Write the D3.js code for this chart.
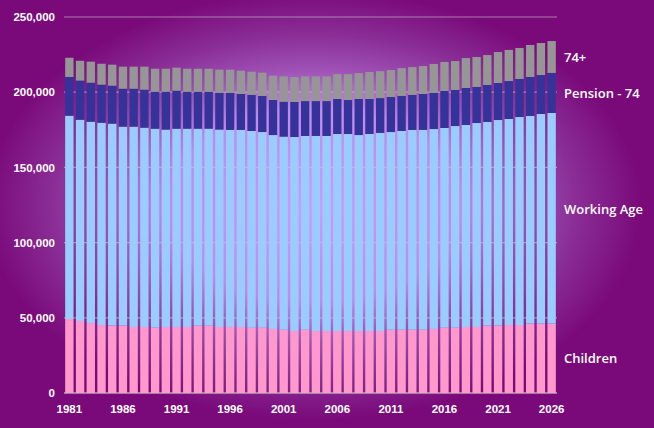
<!DOCTYPE html>
<html>
<head>
<meta charset="utf-8">
<script src="https://cdn.jsdelivr.net/npm/d3@7"></script>
<style>
  html, body { margin: 0; padding: 0; background: #7a0a7a; }
  svg { display: block; }
</style>
</head>
<body>
<div id="chart"></div>
<script>
// years 1981 - 2026
const years = d3.range(1981, 2027)

const children = [49200, 47900, 46500, 45200, 44800, 44800, 43900, 43900, 43400, 43900,
  43900, 43900, 44800, 44800, 43900, 43900, 43900, 43400, 43400, 42600,
  42100, 41200, 42100, 41200, 41200, 41200, 41200, 41200, 41200, 41200,
  42100, 42100, 42100, 42100, 42600, 43400, 43400, 43900, 43900, 44800,
  44800, 45200, 45200, 46100, 46100, 46100]

const workingAge = [135200, 133800, 133900, 134500, 134300, 132300, 133200, 132500, 132300, 131200,
  131800, 131800, 130900, 130900, 131200, 131000, 131000, 130800, 130100, 128900,
  128300, 129000, 128800, 129700, 129700, 131000, 131000, 130300, 131000, 131700,
  131400, 132100, 132800, 132800, 132900, 132800, 134100, 134300, 135600, 135400,
  136700, 137000, 138300, 138100, 139400, 140100]

const pension74 = [25700, 26000, 25900, 25300, 25200, 25200, 25200, 25300, 24600, 25200,
  25300, 24600, 24600, 24600, 24500, 24600, 23900, 24000, 24000, 23300,
  23300, 23300, 23200, 23200, 23200, 23300, 22600, 24000, 23300, 23200,
  23300, 23300, 23300, 23900, 24000, 24600, 24000, 24600, 24000, 24600,
  24600, 25200, 25300, 25900, 25900, 26600]

const over74 = [12800, 13200, 14000, 13900, 14000, 14700, 14700, 15300, 15300, 15300,
  15300, 15300, 15300, 15300, 15400, 15500, 15500, 15400, 15500, 16200,
  16800, 16600, 16400, 16400, 16400, 16500, 17200, 17200, 17900, 17900,
  17900, 18500, 18500, 18600, 19300, 19300, 19200, 19900, 19900, 19900,
  20600, 20700, 20600, 21300, 21300, 21200]

const seriesNames = ['Children', 'Working Age', 'Pension - 74', '74+']
const colors = ['#ff99cc', '#99ccff', '#333399', '#969696']
const yTicks = [0, 50000, 100000, 150000, 200000, 250000]

const width = 654
const height = 428
const margin = { top: 17, right: 97, bottom: 35, left: 64 }

const rows = years.map((y, i) => ({
  year: y,
  'Children': children[i],
  'Working Age': workingAge[i],
  'Pension - 74': pension74[i],
  '74+': over74[i]
}))

const stack = d3.stack().keys(seriesNames)(rows)

const svg = d3.select('#chart').append('svg')
  .attr('width', width)
  .attr('height', height)
  .style('font-family', '"Open Sans", sans-serif')

// background, lighter in the middle
const defs = svg.append('defs')
const grad = defs.append('radialGradient')
  .attr('id', 'bg')
  .attr('cx', '48%').attr('cy', '48%').attr('r', '50%')
grad.selectAll('stop')
  .data([[0, '#d298f8'], [0.45, '#c488ea'], [0.64, '#9e50b4'], [0.8, '#8a2e96'], [1, '#7a0a7a']])
  .join('stop')
  .attr('offset', d => d[0])
  .attr('stop-color', d => d[1])

svg.append('rect')
  .attr('width', width)
  .attr('height', height)
  .attr('fill', 'url(#bg)')

const x = d3.scaleBand()
  .domain(years)
  .range([margin.left, width - margin.right])
  .paddingInner(0.22)
  .paddingOuter(0.11)

const y = d3.scaleLinear()
  .domain([0, 250000])
  .range([height - margin.bottom, margin.top])

// gridlines behind bars
svg.append('g')
  .selectAll('line')
  .data(yTicks)
  .join('line')
  .attr('x1', margin.left)
  .attr('x2', width - margin.right)
  .attr('y1', d => y(d))
  .attr('y2', d => y(d))
  .attr('stroke', '#c8c8c8')
  .attr('stroke-opacity', 0.6)
  .attr('stroke-width', d => d === 0 ? 2 : 1.2)

// bars
svg.append('g')
  .selectAll('g')
  .data(stack)
  .join('g')
  .attr('fill', (d, i) => colors[i])
  .selectAll('rect')
  .data(d => d)
  .join('rect')
  .attr('x', d => x(d.data.year))
  .attr('width', x.bandwidth())
  .attr('y', d => y(d[1]))
  .attr('height', d => y(d[0]) - y(d[1]))

// y axis
const yAxis = svg.append('g')
  .attr('transform', `translate(${margin.left},0)`)
  .call(d3.axisLeft(y).tickValues(yTicks).tickFormat(d3.format(',')).tickSize(0).tickPadding(9))
yAxis.select('.domain').remove()
yAxis.selectAll('text')
  .attr('fill', '#ffffff')
  .style('font-size', '11.5px')
  .style('font-weight', 600)

// x axis, every 5th year
const xAxis = svg.append('g')
  .attr('transform', `translate(0,${height - margin.bottom})`)
  .call(d3.axisBottom(x).tickValues(years.filter(d => (d - 1981) % 5 === 0)).tickSize(0).tickPadding(12))
xAxis.select('.domain').remove()
xAxis.selectAll('text')
  .attr('fill', '#ffffff')
  .style('font-size', '11.5px')
  .style('font-weight', 600)

// series labels next to last bar
const last = stack.map(s => s[s.length - 1])
const nudge = { 'Working Age': -9 } // sits a bit above the middle in the original
svg.append('g')
  .selectAll('text')
  .data(seriesNames)
  .join('text')
  .attr('x', width - margin.right + 7)
  .attr('y', (d, i) => y((last[i][0] + last[i][1]) / 2) + (nudge[d] || 0))
  .attr('dy', '0.35em')
  .attr('fill', '#ffffff')
  .style('font-size', '13px')
  .style('font-weight', 600)
  .text(d => d)
</script>
</body>
</html>
